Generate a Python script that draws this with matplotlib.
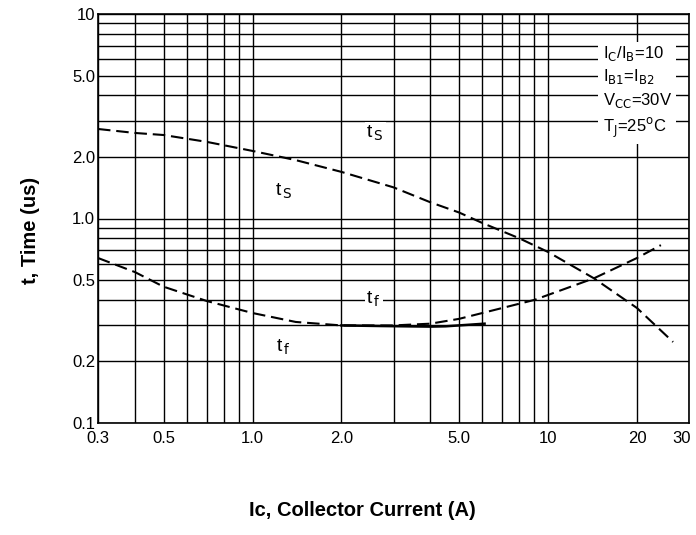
import matplotlib.pyplot as plt
import matplotlib.transforms as mtrans
from matplotlib.ticker import FixedLocator, NullFormatter

plt.rcParams['font.family'] = ['Liberation Sans', 'DejaVu Sans']

# storage time ts (us) vs collector current (A)
ts_ic = [0.3, 0.4, 0.5, 0.7, 1.0, 1.4, 2.0, 3.0, 4.0, 5.0, 6.0, 8.0, 10, 14.3, 20, 26.5]
ts_t = [2.74, 2.62, 2.56, 2.37, 2.14, 1.93, 1.69, 1.42, 1.20, 1.07, 0.95, 0.80, 0.686, 0.51, 0.365, 0.249]

# fall time tf (us)
tf_ic = [0.3, 0.4, 0.5, 0.7, 1.0, 1.4, 2.0, 3.0, 4.0, 5.0, 7.0, 9.0, 14.3, 20, 24.1]
tf_t = [0.641, 0.547, 0.464, 0.395, 0.345, 0.312, 0.30, 0.30, 0.306, 0.323, 0.365, 0.40, 0.51, 0.641, 0.741]

# solid part of tf trace (scan)
tf2_ic = [2.0, 2.7, 4.0, 4.5, 6.1]
tf2_t = [0.30, 0.298, 0.296, 0.297, 0.306]

xticks = [0.3, 0.5, 1.0, 2.0, 5.0, 10, 20, 30]
xlabels = ['0.3', '0.5', '1.0', '2.0', '5.0', '10', '20', '30']
yticks = [0.1, 0.2, 0.5, 1.0, 2.0, 5.0, 10]
ylabels = ['0.1', '0.2', '0.5', '1.0', '2.0', '5.0', '10']

fig = plt.figure(figsize=(6.96, 5.35), dpi=100)
ax = fig.add_axes([98/696, 1-423/535, 591/696, 409/535])
ax.set_xscale('log')
ax.set_yscale('log')
ax.set_xlim(0.3, 30)
ax.set_ylim(0.1, 10)

ax.plot(ts_ic, ts_t, color='black', lw=1.5, ls=(0, (6, 2.8)))
ax.plot(tf_ic, tf_t, color='black', lw=1.5, ls=(0, (6, 2.8)))
ax.plot(tf2_ic, tf2_t, color='black', lw=1.8)

grid_vals = [v*d for d in (0.1, 1, 10) for v in range(1, 10)]
ax.xaxis.set_major_locator(FixedLocator(xticks))
ax.xaxis.set_minor_locator(FixedLocator(grid_vals))
ax.yaxis.set_major_locator(FixedLocator(yticks))
ax.yaxis.set_minor_locator(FixedLocator(grid_vals))
ax.xaxis.set_minor_formatter(NullFormatter())
ax.yaxis.set_minor_formatter(NullFormatter())
ax.set_xticklabels(xlabels)
ax.set_yticklabels(ylabels)
ax.tick_params(which='both', length=0, labelsize=12)
ax.tick_params(axis='x', pad=6)
ax.tick_params(axis='y', pad=2)
ax.grid(True, which='both', color='black', lw=1.0)
ax.set_axisbelow(True)
for s in ax.spines.values():
    s.set_linewidth(1.2)

# last x label sits a bit left so it stays in the figure
lab30 = ax.get_xticklabels()[-1]
lab30.set_transform(lab30.get_transform() + mtrans.ScaledTranslation(-7/100, 0, fig.dpi_scale_trans))

wb = dict(facecolor='white', edgecolor='none', pad=1)
ax.text(2.43, 2.62, r't$_{\,\mathrm{S}}$', fontsize=14, va='center', bbox=wb)
ax.text(1.19, 1.35, r't$_{\,\mathrm{S}}$', fontsize=14, va='center')
ax.text(2.43, 0.404, r't$_{\,\mathrm{f}}$', fontsize=14, va='center', bbox=wb)
ax.text(1.2, 0.235, r't$_{\,\mathrm{f}}$', fontsize=14, va='center')

ax.text(15.3, 4.16, 'I$_\\mathrm{C}$/I$_\\mathrm{B}$=10\nI$_\\mathrm{B1}$=I$_\\mathrm{B2}$\n'
        'V$_\\mathrm{CC}$=30V\nT$_\\mathrm{J}$=25$^\\mathrm{o}$C',
        fontsize=12, va='center', ha='left', linespacing=1.35,
        bbox=dict(facecolor='white', edgecolor='none', pad=3))

fig.text(30/696, 1-230/535, 't, Time (us)', rotation=90, fontsize=14.5,
         fontweight='bold', ha='center', va='center')
fig.text(362/696, 1-510/535, 'Ic, Collector Current (A)', fontsize=14.5,
         fontweight='bold', ha='center', va='center')

fig.savefig('out.png', dpi=100)
